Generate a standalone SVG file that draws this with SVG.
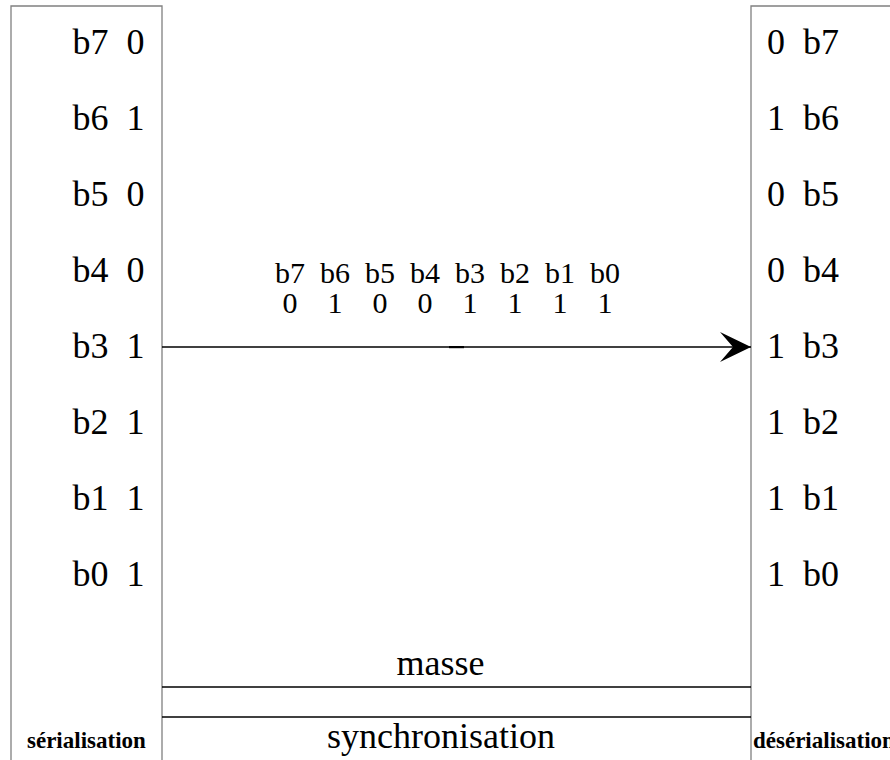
<svg xmlns="http://www.w3.org/2000/svg" width="890" height="760" viewBox="0 0 890 760">
<style>
text{font-family:"Liberation Serif","Times New Roman",serif;fill:#000;white-space:pre}
.big{font-size:36px}
.mid{font-size:30px}
.bold{font-size:23px;font-weight:bold}
.box{fill:none;stroke:#808080;stroke-width:1.3}
.wire{stroke:#000;stroke-width:1.3;fill:none}
</style>
<defs>
<marker id="ah" markerUnits="userSpaceOnUse" markerWidth="34" markerHeight="34" refX="31" refY="16" orient="auto" viewBox="0 0 34 32">
<path d="M31,16 L0,1 L13,16 L0,31 Z" fill="#000"/>
</marker>
</defs>
<rect width="890" height="760" fill="#fff"/>
<g id="serialisation">
<path class="box" d="M11,770 L11,6 L162,6 L162,770"/>
<g class="big">
<text x="72.5" y="54" xml:space="preserve">b7  0</text>
<text x="72.5" y="130" xml:space="preserve">b6  1</text>
<text x="72.5" y="206" xml:space="preserve">b5  0</text>
<text x="72.5" y="282" xml:space="preserve">b4  0</text>
<text x="72.5" y="358" xml:space="preserve">b3  1</text>
<text x="72.5" y="434" xml:space="preserve">b2  1</text>
<text x="72.5" y="510" xml:space="preserve">b1  1</text>
<text x="72.5" y="586" xml:space="preserve">b0  1</text>
</g>
<text class="bold" x="27" y="748">sérialisation</text>
</g>
<g id="deserialisation">
<path class="box" d="M751,770 L751,6 L900,6"/>
<g class="big">
<text x="767" y="54" xml:space="preserve">0  b7</text>
<text x="767" y="130" xml:space="preserve">1  b6</text>
<text x="767" y="206" xml:space="preserve">0  b5</text>
<text x="767" y="282" xml:space="preserve">0  b4</text>
<text x="767" y="358" xml:space="preserve">1  b3</text>
<text x="767" y="434" xml:space="preserve">1  b2</text>
<text x="767" y="510" xml:space="preserve">1  b1</text>
<text x="767" y="586" xml:space="preserve">1  b0</text>
</g>
<text class="bold" x="753" y="748">désérialisation</text>
</g>
<g id="connectors">
<line class="wire" x1="162" y1="347" x2="751" y2="347" stroke="#444" marker-end="url(#ah)"/>
<rect x="449" y="346" width="15" height="2.2" fill="#000"/>
<line class="wire" x1="162" y1="687" x2="751" y2="687"/>
<line class="wire" x1="162" y1="717" x2="751" y2="717"/>
</g>
<g id="labels">
<text class="mid" x="275" y="283" xml:space="preserve">b7  b6  b5  b4  b3  b2  b1  b0</text>
<g class="mid" text-anchor="middle">
<text x="290" y="313">0</text>
<text x="335" y="313">1</text>
<text x="380" y="313">0</text>
<text x="425" y="313">0</text>
<text x="470" y="313">1</text>
<text x="515" y="313">1</text>
<text x="560" y="313">1</text>
<text x="605" y="313">1</text>
</g>
<text class="big" x="396.5" y="675">masse</text>
<text class="big" x="441" y="748" text-anchor="middle">synchronisation</text>
</g>
</svg>
